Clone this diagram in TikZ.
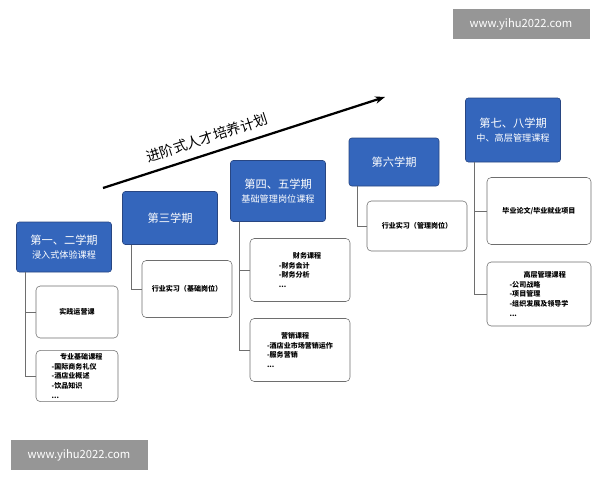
\documentclass[tikz,border=0pt]{standalone}
\usepackage{fontspec}
\setmainfont{Noto Sans CJK SC}
\usetikzlibrary{arrows.meta}
\definecolor{termBlue}{RGB}{52,102,188}
\definecolor{termEdge}{RGB}{40,70,130}
\definecolor{lineGray}{RGB}{110,110,110}
\definecolor{markGray}{RGB}{150,150,150}
\begin{document}
\begin{tikzpicture}[x=0.025cm, y=-0.025cm]
    % Styles
    \tikzset{
        term/.style={rectangle, draw=termEdge, fill=termBlue, text=white, rounded corners=2pt, align=center, font=\fontsize{8}{10}\selectfont, inner sep=1pt},
        course/.style={rectangle, draw=lineGray, fill=white, rounded corners=3pt, align=center, font=\bfseries\fontsize{5}{7}\selectfont, inner sep=2pt},
        link/.style={draw=lineGray, thin},
        wmark/.style={fill=markGray, text=white, font=\fontsize{8}{10}\selectfont, inner sep=0pt}
    }
    \useasboundingbox (0,0) rectangle (600,480);

    % Terms - explicit coordinates
    \node[term, minimum width=95*0.025cm, minimum height=50*0.025cm] (t12) at (64,247) {第一、二学期\\{\fontsize{6.5}{8}\selectfont 浸入式体验课程}};
    \node[term, minimum width=95*0.025cm, minimum height=53*0.025cm] (t3) at (170,218) {第三学期};
    \node[term, minimum width=95*0.025cm, minimum height=61*0.025cm] (t45) at (278,191) {第四、五学期\\{\fontsize{6.5}{8}\selectfont 基础管理岗位课程}};
    \node[term, minimum width=90*0.025cm, minimum height=48*0.025cm] (t6) at (394,162) {第六学期};
    \node[term, minimum width=95*0.025cm, minimum height=64*0.025cm] (t78) at (513,130) {第七、八学期\\{\fontsize{6.5}{8}\selectfont 中、高层管理课程}};

    % Courses
    \node[course, minimum width=82*0.025cm, minimum height=52*0.025cm] (ops) at (77,312) {实践运营课};
    \node[course, minimum width=82*0.025cm, minimum height=51*0.025cm, align=left] (base) at (77,376) {\hspace*{1.2em}专业基础课程\\-国际商务礼仪\\-酒店业概述\\-饮品知识\\...};
    \node[course, minimum width=90*0.025cm, minimum height=57*0.025cm] (job1) at (187,289) {行业实习（基础岗位）};
    \node[course, minimum width=100*0.025cm, minimum height=63*0.025cm, align=left] (fin) at (300,270) {\hspace*{2em}财务课程\\-财务会计\\-财务分析\\...};
    \node[course, minimum width=100*0.025cm, minimum height=63*0.025cm, align=left] (mkt) at (300,350) {\hspace*{2em}营销课程\\-酒店业市场营销运作\\-服务营销\\...};
    \node[course, minimum width=100*0.025cm, minimum height=50*0.025cm] (job2) at (417,226) {行业实习（管理岗位）};
    \node[course, minimum width=104*0.025cm, minimum height=67*0.025cm] (thesis) at (539,211) {毕业论文/毕业就业项目};
    \node[course, minimum width=104*0.025cm, minimum height=64*0.025cm, align=left] (top) at (539,294) {\hspace*{2em}高层管理课程\\-公司战略\\-项目管理\\-组织发展及领导学\\...};

    % Links
    \draw[link] ([xshift=9*0.025cm]t12.south west) |- (ops.west);
    \draw[link] ([xshift=9*0.025cm]t12.south west) |- (base.west);
    \draw[link] ([xshift=9*0.025cm]t3.south west) |- (job1.west);
    \draw[link] ([xshift=9*0.025cm]t45.south west) |- (fin.west);
    \draw[link] ([xshift=9*0.025cm]t45.south west) |- (mkt.west);
    \draw[link] ([xshift=9*0.025cm]t6.south west) |- (job2.west);
    \draw[link] ([xshift=9*0.025cm]t78.south west) |- (thesis.west);
    \draw[link] ([xshift=9*0.025cm]t78.south west) |- (top.west);

    % Plan arrow
    \coordinate (planA) at (103,188);
    \coordinate (planB) at (385,97);
    \draw[line width=1.6pt, -{Stealth[length=7pt]}] (planA) -- (planB);
    \node[rotate=17.9, font=\fontsize{10}{12}\selectfont] (plan) at (207,138) {进阶式人才培养计划};

    % Watermarks
    \node[wmark, minimum width=137*0.025cm, minimum height=30*0.025cm] (mark1) at (521,24) {www.yihu2022.com};
    \node[wmark, minimum width=137*0.025cm, minimum height=30*0.025cm] (mark2) at (79,455) {www.yihu2022.com};
\end{tikzpicture}
\end{document}
